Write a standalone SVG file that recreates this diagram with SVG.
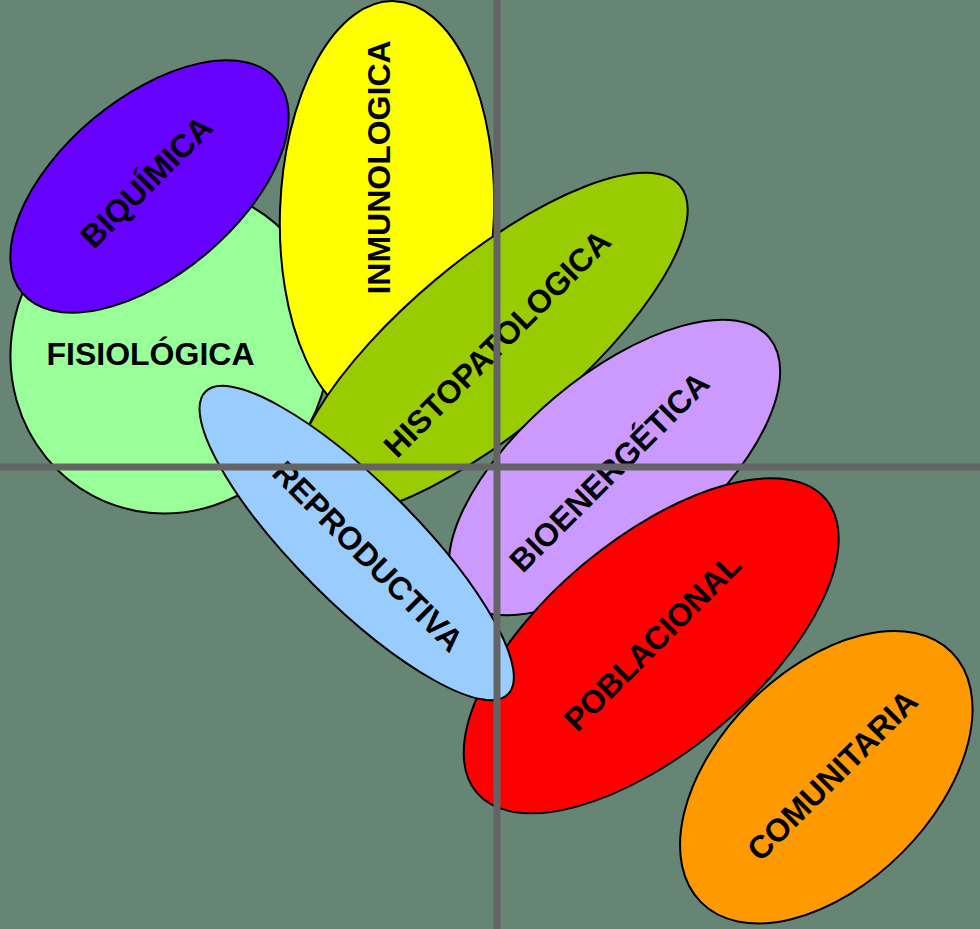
<svg xmlns="http://www.w3.org/2000/svg" width="980" height="929" viewBox="0 0 980 929">
  <style>
    .shape { stroke: #000000; stroke-width: 2; }
    .label { font-family: "Liberation Sans", Arial, sans-serif; font-size: 32px; font-weight: bold; fill: #000000; text-anchor: middle; }
    .axis { stroke: #646464; stroke-width: 7; }
  </style>
  <rect x="0" y="0" width="980" height="929" fill="#678575"/>

  <g id="fisiologica">
    <ellipse class="shape" fill="#99FF99" transform="translate(170,350) rotate(-62)" cx="0" cy="0" rx="165" ry="158"/>
    <text class="label" x="150.5" y="365">FISIOLÓGICA</text>
  </g>

  <g id="biquimica">
    <ellipse class="shape" fill="#6600FF" transform="translate(149.5,186.5) rotate(-40)" cx="0" cy="0" rx="166" ry="88"/>
    <text class="label" transform="translate(146,181.5) rotate(-45)" x="0" y="11.5">BIQUÍMICA</text>
  </g>

  <g id="inmunologica">
    <ellipse class="shape" fill="#FFFF00" transform="translate(387,213) rotate(2)" cx="0" cy="0" rx="107" ry="212"/>
    <text class="label" transform="translate(378.5,167.5) rotate(-90)" x="0" y="11.5">INMUNOLOGICA</text>
  </g>

  <g id="histopatologica">
    <ellipse class="shape" fill="#99CC00" transform="translate(490,345) rotate(-40)" cx="0" cy="0" rx="248" ry="85"/>
    <text class="label" transform="translate(496.7,343.3) rotate(-45)" x="0" y="11.5">HISTOPATOLOGICA</text>
  </g>

  <g id="bioenergetica">
    <ellipse class="shape" fill="#CC99FF" transform="translate(614.5,467.5) rotate(-40)" cx="0" cy="0" rx="202" ry="92"/>
    <text class="label" transform="translate(609,471.5) rotate(-45)" x="0" y="11.5">BIOENERGÉTICA</text>
  </g>

  <g id="poblacional">
    <ellipse class="shape" fill="#FF0000" transform="translate(651.2,645.8) rotate(-40)" cx="0" cy="0" rx="228" ry="106"/>
    <text class="label" transform="translate(652,642) rotate(-45)" x="0" y="11.5">POBLACIONAL</text>
  </g>

  <g id="reproductiva">
    <ellipse class="shape" fill="#99CCFF" transform="translate(356.7,543) rotate(45)" cx="0" cy="0" rx="214" ry="60"/>
    <text class="label" transform="translate(368.3,556) rotate(45)" x="0" y="11.5">REPRODUCTIVA</text>
  </g>

  <g id="comunitaria">
    <ellipse class="shape" fill="#FF9900" transform="translate(826.3,777.2) rotate(-45)" cx="0" cy="0" rx="177" ry="107"/>
    <text class="label" transform="translate(832,775) rotate(-45)" x="0" y="11.5">COMUNITARIA</text>
  </g>

  <g id="connectors">
    <line class="axis" x1="0" y1="467" x2="980" y2="467"/>
    <line class="axis" x1="497" y1="0" x2="497" y2="929"/>
  </g>
</svg>
